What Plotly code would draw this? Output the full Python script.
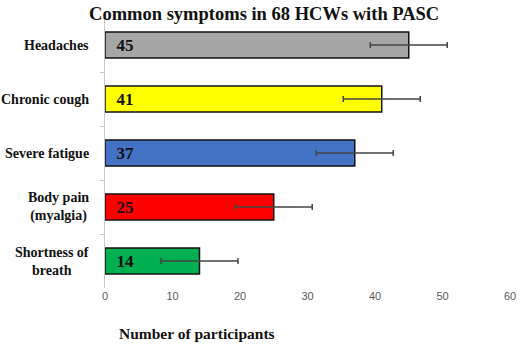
import plotly.graph_objects as go

symptoms = ["Headaches", "Chronic cough", "Severe fatigue", "Body pain<br>(myalgia)", "Shortness of<br>breath"]
participants = [45, 41, 37, 25, 14]
error_sd = [5.7, 5.7, 5.7, 5.7, 5.7]
bar_colors = ["#a6a6a6", "#ffff00", "#4472c4", "#ff0000", "#00b050"]
x_ticks = [0, 10, 20, 30, 40, 50, 60]

serif = "Liberation Serif, Times New Roman, serif"

fig = go.Figure()
fig.add_trace(go.Bar(
    y=symptoms,
    x=participants,
    orientation="h",
    marker=dict(color=bar_colors, line=dict(color="#111111", width=1.5)),
    error_x=dict(type="data", array=error_sd, color="#444444", thickness=1.5, width=3),
    text=["\u00a0\u00a0" + str(v) for v in participants],
    textposition="inside",
    insidetextanchor="start",
    textfont=dict(family=serif, size=17, color="#111111", weight="bold"),
    width=0.48,
    cliponaxis=False,
))

# category labels, centred line by line
label_annotations = [
    dict(text="<b>" + s + "</b>", xref="paper", yref="y", x=0, y=s,
         xanchor="right", yanchor="middle", xshift=-14, align="center",
         showarrow=False, font=dict(family=serif, size=14, color="#111111"))
    for s in symptoms
]

fig.update_layout(
    width=520, height=348,
    margin=dict(l=105, r=10, t=18, b=60, autoexpand=False),
    paper_bgcolor="white", plot_bgcolor="white",
    showlegend=False,
    title=dict(
        text="<b>Common symptoms in 68 HCWs with PASC</b>",
        x=0.508, xanchor="center", y=0.962, yanchor="middle",
        font=dict(family=serif, size=18.5, color="#111111"),
    ),
    xaxis=dict(
        range=[0, 60], tickvals=x_ticks, showgrid=False, zeroline=False,
        showline=False, ticks="", automargin=False,
        tickfont=dict(family="Liberation Sans, Arial, sans-serif", size=11, color="#595959"),
    ),
    yaxis=dict(
        categoryorder="array", categoryarray=symptoms, autorange="reversed",
        showline=True, linecolor="#c8c8c8", linewidth=1,
        ticks="outside", tickson="boundaries", ticklen=4, tickcolor="#c8c8c8",
        showgrid=False, showticklabels=False, automargin=False,
    ),
    annotations=label_annotations + [dict(
        text="<b>Number of participants</b>", xref="paper", yref="paper",
        x=0.227, y=-0.17, xanchor="center", yanchor="middle", showarrow=False,
        font=dict(family=serif, size=15.5, color="#111111"),
    )],
)

fig.write_html("out.html")
